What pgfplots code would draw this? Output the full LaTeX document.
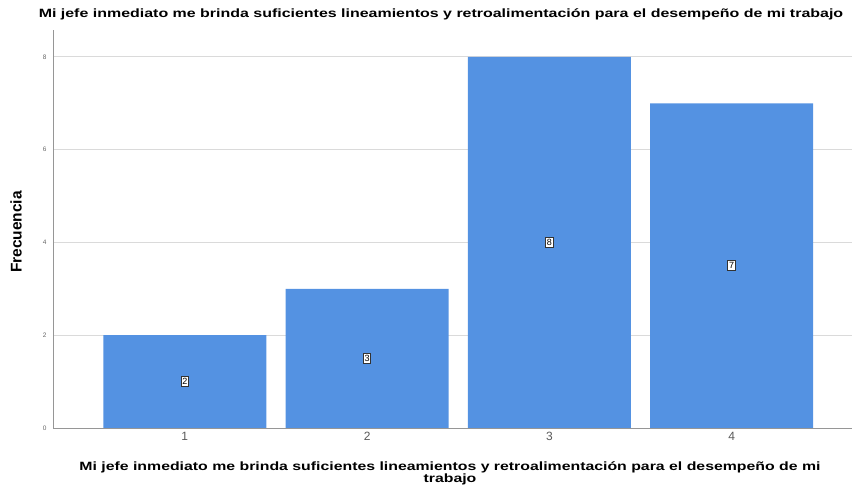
\documentclass[border=0pt]{standalone}
\usepackage{pgfplots}
\pgfplotsset{compat=1.18}
\usepackage{fontspec}
\setmainfont{Liberation Sans}
\definecolor{barblue}{RGB}{84,146,226}
\definecolor{gridgray}{RGB}{218,218,218}
\definecolor{axisgray}{RGB}{150,150,150}
\begin{document}
\begin{tikzpicture}[x=1pt,y=1pt]
\useasboundingbox (0,0) rectangle (852,502);
\begin{axis}[
  at={(53pt,74pt)}, anchor=south west,
  scale only axis, width=799pt, height=398pt,
  xmin=0.277, xmax=4.66, ymin=0, ymax=8.58,
  axis x line*=bottom, axis y line*=left,
  axis line style={axisgray, line width=0.8pt, -},
  xtick={1,2,3,4}, ytick={0,2,4,6,8},
  ymajorgrids, grid style={gridgray, line width=0.8pt},
  tick style={draw=none},
  xticklabel style={font=\fontsize{12}{12}\selectfont, text=black!65, yshift=-1pt},
  yticklabel style={font=\fontsize{6.5}{6.5}\selectfont, text=black!60, xshift=-3pt},
  /pgf/number format/assume math mode=true,
  clip=false,
]
\addplot[ybar, bar width=163pt, fill=barblue, draw=none, bar shift=0pt]
  coordinates {(1,2) (2,3) (3,8) (4,7)};
\addplot[draw=none, mark=none, point meta=explicit symbolic,
  nodes near coords,
  every node near coord/.append style={anchor=center, draw=black!80, fill=white,
    font=\fontsize{9}{9}\selectfont, inner xsep=1.2pt, inner ysep=1.8pt, line width=1pt}]
  coordinates {(1,1) [2] (2,1.5) [3] (3,4) [8] (4,3.5) [7]};
\end{axis}
\node[font=\bfseries\fontsize{12}{12}\selectfont, xscale=1.33] at (441,488) {Mi jefe inmediato me brinda suficientes lineamientos y retroalimentación para el desempeño de mi trabajo};
\node[font=\bfseries\fontsize{15.5}{15.5}\selectfont, rotate=90] at (16,270) {Frecuencia};
\node[font=\bfseries\fontsize{12}{12}\selectfont, xscale=1.32, align=center] at (450,29) {Mi jefe inmediato me brinda suficientes lineamientos y retroalimentación para el desempeño de mi\\trabajo};
\end{tikzpicture}
\end{document}
